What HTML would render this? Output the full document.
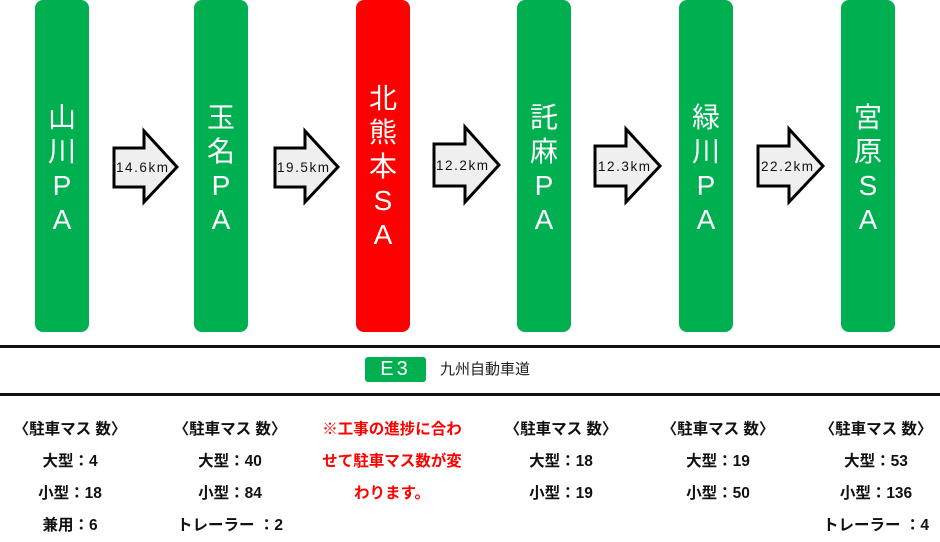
<!DOCTYPE html>
<html><head><meta charset="utf-8"><style>
body{margin:0;width:940px;height:535px;background:#fff;position:relative;overflow:hidden;font-family:"Liberation Sans","Noto Sans CJK JP",sans-serif}
.bar{position:absolute;top:0;height:332px;width:54px;background:#00b050;border-radius:8px;display:flex;flex-direction:column;justify-content:center;align-items:center;color:#fff;font-size:28px;line-height:34px;padding-top:6px;box-sizing:border-box}
.bar span{display:block;height:34px}
.hl{position:absolute;left:0;width:940px;height:3px;background:#111}
.col{position:absolute;top:414px;width:170px;margin-left:-85px;text-align:center;font-weight:bold;font-size:15.5px;line-height:32px;color:#111}
</style></head><body>
<div class="bar" style="left:35px"><span>山</span><span>川</span><span>P</span><span>A</span></div>
<div class="bar" style="left:194px"><span>玉</span><span>名</span><span>P</span><span>A</span></div>
<div class="bar" style="left:356px;background:#ff0000;padding-top:2px"><span>北</span><span>熊</span><span>本</span><span>S</span><span>A</span></div>
<div class="bar" style="left:517px"><span>託</span><span>麻</span><span>P</span><span>A</span></div>
<div class="bar" style="left:679px"><span>緑</span><span>川</span><span>P</span><span>A</span></div>
<div class="bar" style="left:841px"><span>宮</span><span>原</span><span>S</span><span>A</span></div>

<svg width="940" height="340" style="position:absolute;left:0;top:0" font-family="Liberation Sans, sans-serif" font-size="13.5">
<g stroke="#000" stroke-width="3" fill="#efefef" stroke-linejoin="miter">
<polygon points="114,148 144,148 144,131 177,167 144,202 144,187 114,187"/>
<polygon points="275,148 305,148 305,131 338,167 305,202 305,187 275,187"/>
<polygon points="434,144 465,144 465,127 499,165 465,202 465,186 434,186"/>
<polygon points="595,146 626,146 626,129 660,166 626,202 626,186 595,186"/>
<polygon points="758,146 789,146 789,129 823,166 789,202 789,186 758,186"/>
</g>
<g fill="#111" text-anchor="middle">
<text x="142" y="172" textLength="52">14.6km</text>
<text x="303" y="172" textLength="52">19.5km</text>
<text x="462" y="170" textLength="52">12.2km</text>
<text x="624" y="171" textLength="52">12.3km</text>
<text x="787" y="171" textLength="52">22.2km</text>
</g>
</svg>

<div class="hl" style="top:345px"></div>
<div class="hl" style="top:393px"></div>
<div style="position:absolute;left:365px;top:357px;width:61px;height:25px;background:#00b050;border-radius:3px;color:#fff;font-size:20px;line-height:25px;text-align:center;letter-spacing:3px">E3</div>
<div style="position:absolute;left:440px;top:358px;font-size:15px;line-height:24px;color:#222">九州自動車道</div>

<div class="col" style="left:70px">〈駐車マス 数〉<br>大型：4<br>小型：18<br>兼用：6</div>
<div class="col" style="left:230px">〈駐車マス 数〉<br>大型：40<br>小型：84<br>トレーラー ：2</div>
<div class="col" style="left:392px;width:180px;margin-left:-90px;color:#ff0000">※工事の進捗に合わ<br>せて駐車マス数が変<br>わります。</div>
<div class="col" style="left:561px">〈駐車マス 数〉<br>大型：18<br>小型：19</div>
<div class="col" style="left:718px">〈駐車マス 数〉<br>大型：19<br>小型：50</div>
<div class="col" style="left:876px">〈駐車マス 数〉<br>大型：53<br>小型：136<br>トレーラー ：4</div>
</body></html>
